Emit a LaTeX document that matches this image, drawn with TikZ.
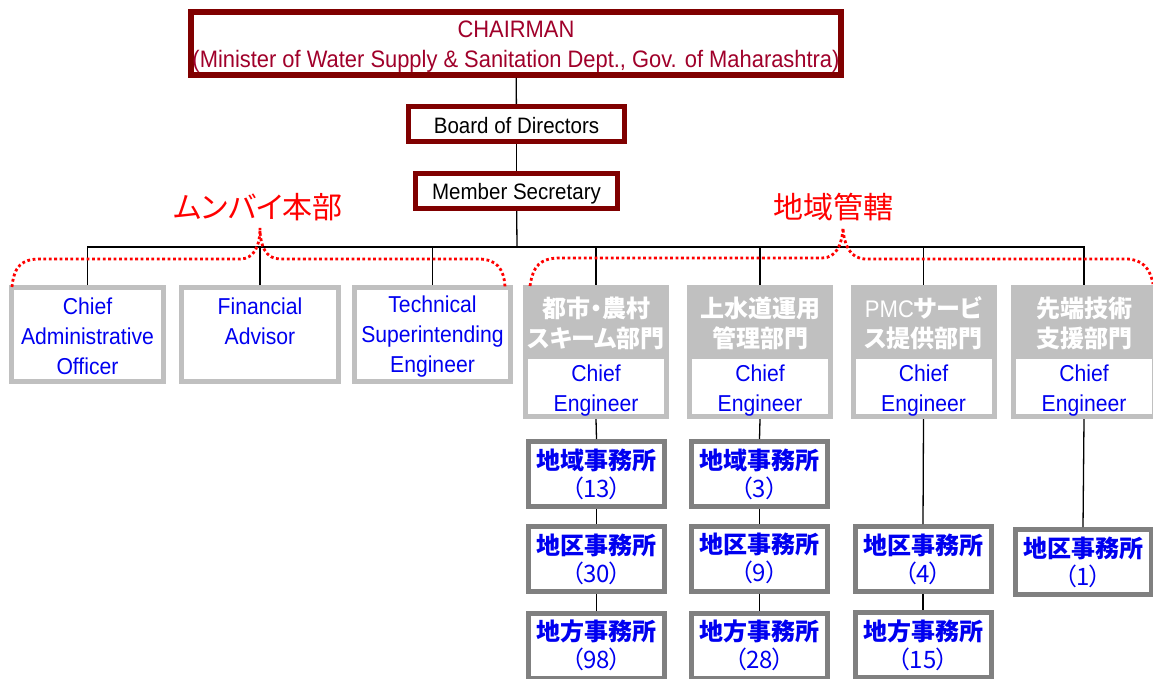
\documentclass[tikz,border=0pt]{standalone}
\usepackage{fontspec}
\setmainfont{Liberation Sans}[FakeStretch=0.92]
\newfontfamily\jp{Noto Sans CJK JP}[RawFeature=+palt]
\definecolor{maroonc}{RGB}{128,0,0}
\definecolor{chairtext}{RGB}{160,0,42}
\definecolor{bluec}{RGB}{0,0,240}
\definecolor{lgray}{RGB}{192,192,192}
\definecolor{dgray}{RGB}{128,128,128}
\definecolor{redc}{RGB}{255,0,0}
\tikzset{
  txt/.style={inner sep=0pt, align=center, font=\fontsize{23}{30}\selectfont},
  topbox/.style={inner sep=0pt, draw=maroonc, line width=5pt, fill=white},
  hqbox/.style={inner sep=0pt, draw=lgray, line width=5pt, fill=white, minimum height=94pt},
  hqtext/.style={txt, text=bluec},
  deptbox/.style={fill=lgray, minimum width=146pt, minimum height=134pt, inner sep=0pt},
  deptlabel/.style={inner sep=0pt, align=center, text=white, font=\jp\bfseries\fontsize{24}{30}\selectfont},
  cebox/.style={inner sep=0pt, fill=white, minimum width=136pt, minimum height=55pt},
  officebox/.style={inner sep=0pt, align=center, draw=dgray, line width=5pt, fill=white, minimum width=136pt, minimum height=65pt, text=bluec, font=\jp\fontsize{24}{28}\selectfont},
  link/.style={line width=1.3pt, black},
  brace/.style={redc, line width=2.8pt, dash pattern=on 2.8pt off 2.6pt},
  regionlabel/.style={text=redc, font=\jp\fontsize{30}{30}\selectfont, inner sep=0pt}
}
\begin{document}
\begin{tikzpicture}[x=1pt,y=-1pt]
\useasboundingbox[fill=white] (0,0) rectangle (1153,679);

% top hierarchy
\node[topbox, line width=6pt, minimum width=650pt, minimum height=63pt] (chair) at (516,43.5) {};
\node[txt, text=chairtext, font=\fontsize{23.8}{30}\selectfont] (chairt) at (516,46.5)
  {CHAIRMAN\\(Minister of Water Supply \& Sanitation Dept., Gov. of Maharashtra)};
\node[topbox, minimum width=216pt, minimum height=35pt] (board) at (516.5,124) {};
\node[txt, font=\fontsize{22.3}{30}\selectfont] (boardt) at (516.5,126) {Board of Directors};
\node[topbox, minimum width=202pt, minimum height=35pt] (sec) at (516.5,191) {};
\node[txt, font=\fontsize{22.3}{30}\selectfont] (sect) at (516.5,194) {Member Secretary};

\coordinate (bus) at (517,247);

% headquarters boxes
\node[hqbox, minimum width=152pt] (cao) at (87.5,334.5) {};
\node[hqbox, minimum width=157pt] (fa) at (260,334.5) {};
\node[hqbox, minimum width=156pt] (tse) at (432.5,334.5) {};
\node[hqtext] (caot) at (87.5,336.5) {Chief\\Administrative\\Officer};
\node[hqtext] (fat) at (260,336.5) {Financial\\Advisor\\\phantom{O}};
\node[hqtext] (tset) at (432.5,336.5) {Technical\\Superintending\\Engineer};

% regional departments
\node[deptbox] (d1) at (596,352) {};
\node[deptbox] (d2) at (760,352) {};
\node[deptbox] (d3) at (923.5,352) {};
\node[deptbox] (d4) at (1084,352) {};
\node[deptlabel] (d1t) at (596,323) {都市・農村\\スキーム部門};
\node[deptlabel] (d2t) at (760,323) {上水道運用\\管理部門};
\node[deptlabel] (d3t) at (923.5,323) {{\rmfamily\mdseries PMC}サービ\\ス提供部門};
\node[deptlabel] (d4t) at (1084,323) {先端技術\\支援部門};
\node[cebox] (ce1) at (596,386.5) {};
\node[cebox] (ce2) at (760,386.5) {};
\node[cebox] (ce3) at (923.5,386.5) {};
\node[cebox] (ce4) at (1084,386.5) {};
\node[hqtext] (ce1t) at (596,391) {Chief\\Engineer};
\node[hqtext] (ce2t) at (760,391) {Chief\\Engineer};
\node[hqtext] (ce3t) at (923.5,391) {Chief\\Engineer};
\node[hqtext] (ce4t) at (1084,391) {Chief\\Engineer};

% offices
\node[officebox] (o11) at (596.5,474) {\textbf{地域事務所}\\（13）};
\node[officebox] (o12) at (596.5,559) {\textbf{地区事務所}\\（30）};
\node[officebox] (o13) at (596.5,645.5) {\textbf{地方事務所}\\（98）};
\node[officebox] (o21) at (759.5,474) {\textbf{地域事務所}\\（3）};
\node[officebox] (o22) at (759.5,558.5) {\textbf{地区事務所}\\（9）};
\node[officebox] (o23) at (759.5,645.5) {\textbf{地方事務所}\\（28）};
\node[officebox] (o32) at (923,559) {\textbf{地区事務所}\\（4）};
\node[officebox] (o33) at (923,645) {\textbf{地方事務所}\\（15）};
\node[officebox] (o42) at (1083,562) {\textbf{地区事務所}\\（1）};

% connectors
\draw[link] (chair) -- (board);
\draw[link] (board) -- (sec);
\draw[link] (sec) -- (bus);
\draw[link] (cao.north) -- (cao.north |- bus) -- (d4.north |- bus) -- (d4.north);
\draw[link] (fa.north) -- (fa.north |- bus);
\draw[link] (tse.north) -- (tse.north |- bus);
\draw[link] (d1.north) -- (d1.north |- bus);
\draw[link] (d2.north) -- (d2.north |- bus);
\draw[link] (d3.north) -- (d3.north |- bus);
\draw[link] (d1.south) -- (o11.north);
\draw[link] (o11) -- (o12);
\draw[link] (o12) -- (o13);
\draw[link] (d2.south) -- (o21.north);
\draw[link] (o21) -- (o22);
\draw[link] (o22) -- (o23);
\draw[link] (d3.south) -- (o32.north);
\draw[link] (o32) -- (o33);
\draw[link] (d4.south) -- (o42.north);

% region braces and labels
\node[regionlabel] (hq) at (258,207) {ムンバイ本部};
\node[regionlabel] (reg) at (833,207) {地域管轄};
\draw[brace] (12,287) .. controls (14,266) and (22,259) .. (40,259) -- (240,259)
  .. controls (254,259) and (260,246) .. (260,228)
  .. controls (260,246) and (266,259) .. (280,259) -- (478,259)
  .. controls (496,259) and (504,268) .. (505,287);
\draw[brace] (530,286) .. controls (533,266) and (540,258) .. (560,258) -- (822,258)
  .. controls (836,258) and (842,245) .. (843,228)
  .. controls (844,245) and (850,259) .. (866,259) -- (1126,259)
  .. controls (1142,259) and (1150,268) .. (1153,284);
\end{tikzpicture}
\end{document}
